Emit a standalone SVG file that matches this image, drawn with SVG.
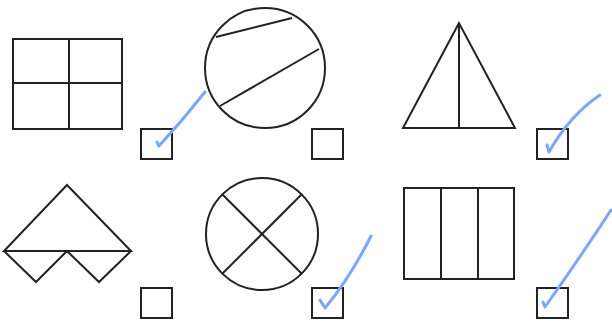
<svg xmlns="http://www.w3.org/2000/svg" width="612" height="322" viewBox="0 0 612 322">
<style>
.s{fill:none;stroke:#222;stroke-width:2;stroke-linejoin:miter}
.b{fill:none;stroke:#222;stroke-width:2}
.c{fill:none;stroke:#7aa8f7;stroke-width:3;stroke-linecap:round;stroke-linejoin:round}
</style>
<rect width="612" height="322" fill="#fff"/>
<g id="fig1">
<rect class="s" x="13" y="39" width="109" height="90"/>
<line class="s" x1="69" y1="39" x2="69" y2="129"/>
<line class="s" x1="13" y1="83" x2="122" y2="83"/>
</g>
<g id="fig2">
<circle class="s" cx="265" cy="68" r="60"/>
<line class="s" x1="216" y1="37" x2="292" y2="18"/>
<line class="s" x1="220" y1="106" x2="319" y2="49"/>
</g>
<g id="fig3">
<path class="s" d="M459,23 L403,128 L515,128 Z"/>
<line class="s" x1="459" y1="23" x2="459" y2="128"/>
</g>
<g id="fig4">
<path class="s" d="M67,185 L4,251 L131,251 Z"/>
<path class="s" d="M4,251 L36,282 L67,251 L99,282 L131,251"/>
</g>
<g id="fig5">
<circle class="s" cx="262" cy="234" r="56"/>
<line class="s" x1="222" y1="194" x2="302" y2="274"/>
<line class="s" x1="302" y1="194" x2="222" y2="274"/>
</g>
<g id="fig6">
<rect class="s" x="404" y="188" width="110" height="91"/>
<line class="s" x1="441" y1="188" x2="441" y2="279"/>
<line class="s" x1="478" y1="188" x2="478" y2="279"/>
</g>
<g id="boxes">
<rect class="b" x="141" y="129" width="31" height="30"/>
<rect class="b" x="312" y="129" width="31" height="30"/>
<rect class="b" x="537" y="129" width="31" height="30"/>
<rect class="b" x="141" y="288" width="31" height="30"/>
<rect class="b" x="312" y="288" width="31" height="30"/>
<rect class="b" x="537" y="288" width="31" height="30"/>
</g>
<g id="checks">
<path class="c" d="M157,142 L159,146 Q183,120 205,92"/>
<path class="c" d="M547,145 L549,152 Q570,115 600,95"/>
<path class="c" d="M320,300 L325,308 Q350,278 371,236"/>
<path class="c" d="M543,302 L545,307 Q579,259 611,210"/>
</g>
</svg>
